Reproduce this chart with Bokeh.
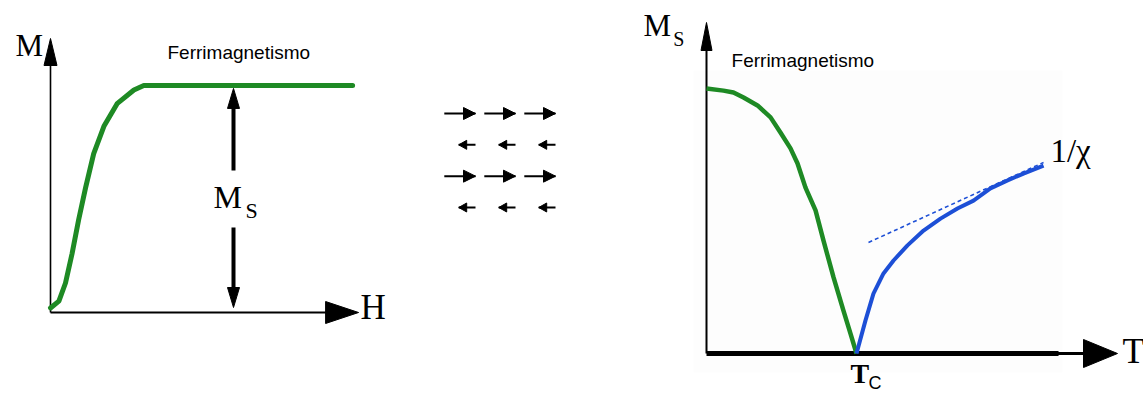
from bokeh.plotting import figure
from bokeh.layouts import row
from bokeh.models import Range1d
from bokeh.core.properties import value
from bokeh.embed import file_html
from bokeh.resources import INLINE

# ---------------- data ----------------
# Magnetization curve M(H) of a ferrimagnet (M in units of Ms)
field_H = [0.0, 0.28, 0.5, 0.72, 0.94, 1.17, 1.44, 1.78, 2.22, 2.78, 3.11, 10.07]
magnet_M = [0.02, 0.05, 0.13, 0.26, 0.41, 0.55, 0.70, 0.82, 0.92, 0.98, 1.0, 1.0]
ms_marker_H = 6.1          # field where the Ms double arrow is drawn

# Antiparallel sublattice moments, one value per row, three sites per row
spin_moment = [0.78, -0.42, 0.78, -0.42]
spin_site = [0, 1, 2]

# Spontaneous magnetization Ms(T), T in units of Tc
temp_T = [0.0, 0.113, 0.18, 0.247, 0.34, 0.427, 0.493, 0.56, 0.607, 0.66,
          0.727, 0.78, 0.847, 0.913, 0.96, 1.0]
sat_Ms = [1.0, 0.992, 0.985, 0.966, 0.936, 0.891, 0.834, 0.774, 0.717, 0.626,
          0.540, 0.426, 0.287, 0.162, 0.075, 0.0]

# Inverse susceptibility above Tc and its high-temperature asymptote
inv_T = [1.0, 1.06, 1.113, 1.18, 1.247, 1.34, 1.447, 1.56, 1.673, 1.78,
         1.893, 2.007, 2.113, 2.247]
inv_chi = [0.0, 0.125, 0.226, 0.302, 0.351, 0.408, 0.464, 0.509, 0.547, 0.577,
           0.623, 0.653, 0.679, 0.709]
asym_T = [1.08, 2.247]
asym_chi = [0.419, 0.721]

GREEN = "#1e8a24"
BLUE = "#1d4fd6"
H_PX = 394
SERIF = value("Liberation Serif")
SANS = value("Liberation Sans")


def make_fig(width, xr, yr):
    p = figure(width=width, height=H_PX, x_range=Range1d(*xr), y_range=Range1d(*yr),
               output_backend="svg", toolbar_location=None,
               x_axis_location=None, y_axis_location=None, min_border=0)
    p.outline_line_color = None
    p.background_fill_color = "white"
    p.border_fill_color = "white"
    p.xgrid.grid_line_color = None
    p.ygrid.grid_line_color = None
    sx = width / (xr[1] - xr[0])
    sy = H_PX / (yr[1] - yr[0])
    return p, sx, sy


def heads(p, sx, sy, tips, color="black"):
    """Filled triangular arrow heads; tips = (x, y, ux, uy, length_px, width_px)."""
    xs, ys = [], []
    for tx, ty, ux, uy, ln, wd in tips:
        bx = tx - ux * ln / sx
        by = ty - uy * ln / sy
        nx, ny = -uy, ux
        xs.append([tx, bx + nx * wd / 2 / sx, bx - nx * wd / 2 / sx])
        ys.append([ty, by + ny * wd / 2 / sy, by - ny * wd / 2 / sy])
    p.patches(xs, ys, fill_color=color, line_color=color, line_width=1)


def label(p, x, y, txt, font, size, style="normal"):
    p.text(x=[x], y=[y], text=[txt], text_font=font, text_font_size=size,
           text_font_style=style, text_align="left", text_baseline="middle",
           text_color="black")


# ---------------- left: M vs H ----------------
pl, sx, sy = make_fig(400, (-50 / 30, 350 / 30), (-82 / 227, 312 / 227))
m_axis_top, h_axis_end = 1.207, 10.27
pl.segment(x0=[0, 0], y0=[0, 0], x1=[0, h_axis_end - 30 / sx],
           y1=[m_axis_top - 25 / sy, 0], line_color="black", line_width=[1.6, 2.2])
heads(pl, sx, sy, [(0, m_axis_top, 0, 1, 27, 13), (h_axis_end, 0, 1, 0, 33, 22)])

pl.line(field_H, magnet_M, line_color=GREEN, line_width=5, line_join="round", line_cap="round")

ms_top, ms_bot = 0.987, 0.022
pl.segment(x0=[ms_marker_H, ms_marker_H], y0=[ms_top - 15 / sy, 0.374],
           x1=[ms_marker_H, ms_marker_H], y1=[0.626, ms_bot + 15 / sy],
           line_color="black", line_width=4)
heads(pl, sx, sy, [(ms_marker_H, ms_top, 0, 1, 20, 12), (ms_marker_H, ms_bot, 0, -1, 20, 12)])

label(pl, -1.167, 1.176, "M", SERIF, "31px")
label(pl, 3.9, 1.145, "Ferrimagnetismo", SANS, "19px")
label(pl, 10.33, 0.02, "H", SERIF, "35px")
label(pl, 5.43, 0.507, "M", SERIF, "32px")
label(pl, 6.5, 0.449, "S", SERIF, "22px")

# ---------------- middle: spin arrangement ----------------
pm, sxm, sym = make_fig(240, (-1.875, 4.125), (-281 / 31.33, 113 / 31.33))
x0s, x1s, ys, tips = [], [], [], []
for r, m in enumerate(spin_moment):
    for c in spin_site:
        tail = c - m if m > 0 else c
        tip = tail + m
        x0s.append(tail)
        x1s.append(tip)
        ys.append(-r)
        big = abs(m) > 0.6
        tips.append((tip, -r, 1 if m > 0 else -1, 0, 12 if big else 8, 12 if big else 9))
pm.segment(x0=x0s, y0=ys, x1=x1s, y1=ys, line_color="black", line_width=2)
heads(pm, sxm, sym, tips)

# ---------------- right: Ms and 1/chi vs T ----------------
pr, sxr, syr = make_fig(503, (-0.44, 437 / 150), (-41 / 265, 353 / 265))
pr.quad(left=[-0.087], right=[2.373], bottom=[-0.072], top=[1.068],
        fill_color="#fdfdfd", line_color=None)
ms_axis_top, t_axis_end = 1.249, 2.74
pr.segment(x0=[0], y0=[0], x1=[0], y1=[ms_axis_top - 25 / syr], line_color="black", line_width=2)
pr.segment(x0=[2.3], y0=[0], x1=[t_axis_end - 30 / sxr], y1=[0], line_color="black", line_width=3)
pr.segment(x0=[0], y0=[0], x1=[2.347], y1=[0], line_color="black", line_width=5)
heads(pr, sxr, syr, [(0, ms_axis_top, 0, 1, 28, 11), (t_axis_end, 0, 1, 0, 34, 28)])

pr.line(temp_T, sat_Ms, line_color=GREEN, line_width=4.5, line_join="round")
pr.line(inv_T, inv_chi, line_color=BLUE, line_width=4, line_join="round")
pr.line(asym_T, asym_chi, line_color=BLUE, line_width=1.6, line_dash="4 3")

label(pr, -0.42, 1.238, "M", SERIF, "31px")
label(pr, -0.222, 1.187, "S", SERIF, "20px")
label(pr, 0.167, 1.104, "Ferrimagnetismo", SANS, "19px")
label(pr, 2.293, 0.766, "1/\u03c7", SERIF, "33px")
label(pr, 2.773, 0.011, "T", SERIF, "36px")
label(pr, 0.96, -0.074, "T", SERIF, "28px", "bold")
label(pr, 1.08, -0.11, "C", SANS, "18px")

layout = row(pl, pm, pr, spacing=0)
open("out.html", "w").write(file_html(layout, INLINE))
